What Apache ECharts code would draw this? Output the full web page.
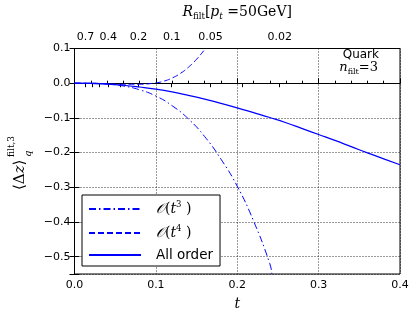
<!DOCTYPE html>
<html>
<head>
<meta charset="utf-8">
<script src="https://cdn.jsdelivr.net/npm/echarts@6/dist/echarts.min.js"></script>
<style>
html,body{margin:0;padding:0;background:#fff;}
#c{width:415px;height:318px;}
</style>
</head>
<body>
<div id="c"></div>
<script>
// ---- data ----
const tAll = [0, 0.02, 0.04, 0.06, 0.08, 0.10, 0.12, 0.14, 0.16, 0.18, 0.20, 0.22, 0.24, 0.26, 0.28, 0.30, 0.32, 0.34, 0.36, 0.38, 0.40];
const allOrder = [0, -0.0007, -0.0025, -0.006, -0.011, -0.017, -0.025, -0.035, -0.046, -0.058, -0.071, -0.085, -0.099, -0.114, -0.131, -0.148, -0.165, -0.183, -0.201, -0.218, -0.235];

const tO3 = [0, 0.02, 0.04, 0.06, 0.08, 0.10, 0.12, 0.14, 0.16, 0.18, 0.20, 0.22, 0.24, 0.2425];
const orderT3 = [0, -0.0003, -0.0024, -0.008, -0.019, -0.037, -0.065, -0.103, -0.154, -0.219, -0.297, -0.397, -0.52, -0.55];

const tO4 = [0, 0.02, 0.04, 0.06, 0.08, 0.10, 0.11, 0.12, 0.13, 0.14, 0.15, 0.16, 0.1607];
const orderT4 = [0, 0, -0.0014, -0.003, -0.003, 0.001, 0.006, 0.015, 0.028, 0.046, 0.069, 0.097, 0.1];

const seriesNames = ['O3', 'O4', 'All order'];

// top axis: R_filt [p_t = 50 GeV]
const rFiltLabels = ['0.7', '0.4', '0.2', '0.1', '0.05', '0.02'];
const rFiltLabelT = [0.0135, 0.0415, 0.0785, 0.1195, 0.167, 0.2522];
const rFiltMinorT = [0.022, 0.0305, 0.056, 0.206];

const pairs = (xs, ys) => xs.map((x, i) => [x, ys[i]]);
const fmtY = v => {
  if (Math.abs(v + 0.55) < 1e-9) return '';
  const s = Math.abs(v).toFixed(1);
  return (v < -1e-9 ? '\u2212' : '') + s;
};

const BLUE = '#0000ff';
const SANS = 'DejaVu Sans';
const SERIF = 'DejaVu Serif';

const chart = echarts.init(document.getElementById('c'), null, {renderer: 'canvas'});

const legendRich = {
  o: {fontFamily: SERIF, fontSize: 14, fontStyle: 'italic', color: '#000', lineHeight: 18},
  p: {fontFamily: SERIF, fontSize: 14, color: '#000', lineHeight: 18},
  i: {fontFamily: SERIF, fontSize: 14, fontStyle: 'italic', color: '#000', lineHeight: 18},
  sup: {fontFamily: SERIF, fontSize: 8.5, color: '#000', verticalAlign: 'top'},
  s: {fontFamily: SANS, fontSize: 13.5, color: '#000', lineHeight: 18}
};

const option = {
  animation: false,
  backgroundColor: '#fff',
  grid: {left: 74.5, right: 15, top: 44, bottom: 44, show: true, borderColor: '#000', borderWidth: 1, backgroundColor: 'transparent'},
  xAxis: [
    {
      type: 'value', position: 'bottom', min: 0, max: 0.4, interval: 0.1,
      axisLine: {show: true, lineStyle: {color: '#000', width: 1}},
      axisTick: {show: true, inside: true, length: 5, lineStyle: {color: '#000'}},
      minorTick: {show: true, splitNumber: 5, length: 2.5, lineStyle: {color: '#000'}},
      splitLine: {show: true, lineStyle: {color: '#000', type: [1, 2], width: 0.8}},
      axisLabel: {color: '#000', fontFamily: SANS, fontSize: 11, margin: 6, formatter: v => v.toFixed(1)},
      name: '{t|t}', nameLocation: 'middle', nameGap: 23,
      nameTextStyle: {rich: {t: {fontFamily: SERIF, fontStyle: 'italic', fontSize: 14, color: '#000'}}}
    },
    {
      type: 'value', position: 'top', min: 0, max: 0.4,
      axisLine: {show: true, lineStyle: {color: '#000', width: 1}},
      axisTick: {show: true, inside: true, length: 4, customValues: rFiltLabelT.concat(rFiltMinorT), lineStyle: {color: '#000'}},
      splitLine: {show: false},
      axisLabel: {
        color: '#000', fontFamily: SANS, fontSize: 11, margin: 6,
        customValues: rFiltLabelT,
        formatter: v => {
          const k = rFiltLabelT.findIndex(t => Math.abs(t - v) < 1e-6);
          return k >= 0 ? rFiltLabels[k] : '';
        }
      },
      name: '{r|R}{s|filt}{n|[}{r|p}{si|t}{n| =50GeV]}', nameLocation: 'middle', nameGap: 27,
      nameTextStyle: {rich: {
        r: {fontFamily: SERIF, fontStyle: 'italic', fontSize: 14, color: '#000', lineHeight: 19},
        n: {fontFamily: SERIF, fontSize: 14, color: '#000', lineHeight: 19},
        s: {fontFamily: SERIF, fontSize: 8.5, color: '#000', verticalAlign: 'bottom'},
        si: {fontFamily: SERIF, fontStyle: 'italic', fontSize: 9, color: '#000', verticalAlign: 'bottom'}
      }}
    }
  ],
  yAxis: [
    {
      type: 'value', position: 'left', min: -0.55, max: 0.1, minInterval: 0.1, maxInterval: 0.1,
      axisLine: {show: true, lineStyle: {color: '#000', width: 1}},
      axisTick: {show: true, inside: true, length: 5, lineStyle: {color: '#000'}},
      splitLine: {show: true, lineStyle: {color: '#000', type: [1, 2], width: 0.8}},
      axisLabel: {color: '#000', fontFamily: SANS, fontSize: 11, margin: 4, formatter: fmtY}
    },
    {
      type: 'value', position: 'right', min: -0.55, max: 0.1, minInterval: 0.1, maxInterval: 0.1,
      axisLine: {show: true, lineStyle: {color: '#000', width: 1}},
      axisTick: {show: true, inside: true, length: 5, lineStyle: {color: '#000'}},
      splitLine: {show: false},
      axisLabel: {show: false}
    }
  ],
  legend: {
    orient: 'vertical', left: 82, top: 195,
    data: seriesNames,
    backgroundColor: '#fff', borderColor: '#000', borderWidth: 1, borderRadius: 0,
    padding: [5, 7, 4, 6], itemGap: 8, itemWidth: 52, itemHeight: 14,
    itemStyle: {color: 'rgba(0,0,0,0)', borderColor: 'rgba(0,0,0,0)', borderWidth: 0, opacity: 0},
    textStyle: {padding: [0, 0, 0, 10], rich: legendRich},
    formatter: name => {
      if (name === 'O3') return '{o|\uD835\uDCAA}{p|(}{i|t}{sup|3}{p| )}';
      if (name === 'O4') return '{o|\uD835\uDCAA}{p|(}{i|t}{sup|4}{p| )}';
      return '{s|All order}';
    }
  },
  graphic: [
    {type: 'text', right: 36, top: 49, style: {text: 'Quark', fontFamily: SANS, fontSize: 12, fill: '#000'}},
    {type: 'text', right: 37, top: 61, style: {
      text: '{i|n}{s|filt}{n|=3}', fill: '#000',
      rich: {
        i: {fontFamily: SERIF, fontStyle: 'italic', fontSize: 13, lineHeight: 16},
        n: {fontFamily: SERIF, fontSize: 13, lineHeight: 16},
        s: {fontFamily: SERIF, fontSize: 8, verticalAlign: 'bottom'}
      }
    }},
    {type: 'group', x: 20, y: 190, rotation: Math.PI / 2, children: [
      {type: 'text', x: 0, y: 0, style: {
        text: '{b|\u27E8\u0394}{i|z}{b|\u27E9}', verticalAlign: 'middle', align: 'left', fill: '#000',
        rich: {
          b: {fontFamily: SERIF, fontSize: 15},
          i: {fontFamily: SERIF, fontStyle: 'italic', fontSize: 15}
        }
      }},
      {type: 'text', x: 33, y: -8, style: {text: 'filt,3', fontFamily: SERIF, fontSize: 9, verticalAlign: 'middle', fill: '#000'}},
      {type: 'text', x: 33, y: 8, style: {text: 'q', fontFamily: SERIF, fontStyle: 'italic', fontSize: 10, verticalAlign: 'middle', fill: '#000'}}
    ]}
  ],
  series: [
    {name: 'O3', type: 'line', data: pairs(tO3, orderT3), showSymbol: false, symbol: 'none', smooth: true,
      lineStyle: {color: BLUE, width: 1, type: [7, 3, 1.5, 3]}, itemStyle: {color: BLUE}},
    {name: 'O4', type: 'line', data: pairs(tO4, orderT4), showSymbol: false, symbol: 'none', smooth: true,
      lineStyle: {color: BLUE, width: 1, type: [6, 3]}, itemStyle: {color: BLUE}},
    {name: 'All order', type: 'line', data: pairs(tAll, allOrder), showSymbol: false, symbol: 'none', smooth: true,
      lineStyle: {color: BLUE, width: 1.2, type: 'solid'}, itemStyle: {color: BLUE}}
  ]
};
chart.setOption(option);
</script>
</body>
</html>
